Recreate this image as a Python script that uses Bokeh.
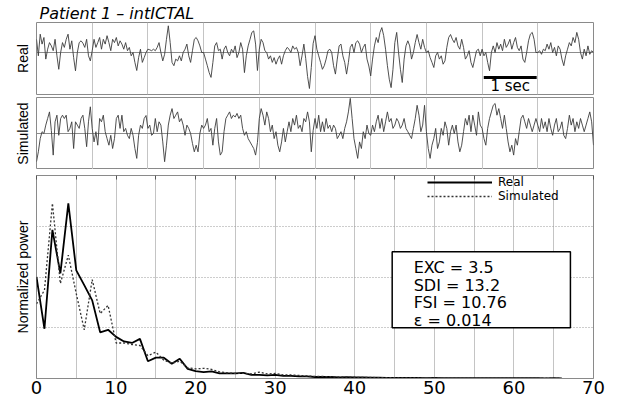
from bokeh.plotting import figure
from bokeh.layouts import column
from bokeh.models import FixedTicker, Title, LinearAxis, Range1d
from bokeh.core.properties import value
from bokeh.embed import file_html
from bokeh.resources import INLINE

FONT = "Liberation Sans"
WIDE = "DejaVu Sans"

# ---------------- data ----------------
title_text = "Patient 1 \u2013 intICTAL"
fs = 30  # samples per second in the traces

real_eeg = [
    # 0-1 s
    0.44, -0.11, 0.61, 0.28, 0.5, -0.22, 0.11, 0.33, 0.22, 0.06, 0.44, -0.11, -0.56, 0.0, 0.33,
    0.17, 0.44, 0.61, 0.11, 0.39, -0.17, -0.61, 0.0, 0.33, 0.39, 0.31, 0.17, 0.44, -0.11, -0.28,
    # 1-2 s
    0.06, 0.44, 0.17, 0.33, 0.5, 0.11, 0.44, 0.28, 0.56, 0.33, 0.06, 0.44, 0.33, 0.5, 0.22,
    0.39, 0.28, 0.11, 0.33, 0.06, 0.17, -0.11, 0.0, -0.33, -0.6, -0.17, 0.11, -0.33, -0.17, 0.0,
    # 2-3 s
    0.11, 0.09, 0.06, 0.11, 0.06, 0.17, 0.33, 0.0, -0.28, -0.06, 0.44, 0.89, 0.33, -0.33, -0.44,
    -0.22, -0.28, -0.11, -0.28, 0.0, 0.11, 0.28, -0.11, -0.33, 0.06, 0.44, 0.5, 0.39, 0.22, 0.0,
    # 3-4 s
    0.0, -0.22, -0.44, -0.67, -0.83, -0.33, 0.22, 0.33, 0.06, 0.11, -0.22, 0.11, 0.22, 0.0, -0.11,
    0.11, 0.0, 0.22, -0.17, 0.0, 0.33, 0.11, -0.67, -0.11, 0.22, 0.44, 0.67, 0.72, 0.28, -0.6,
    # 4-5 s
    0.11, 0.44, 0.33, 0.06, 0.0, -0.22, -0.11, -0.33, -0.17, -0.39, -0.22, -0.11, -0.39, -0.11, 0.06,
    0.17, 0.11, 0.0, 0.22, 0.11, 0.17, 0.0, -0.44, -0.11, 0.28, -0.2, -0.8, -1.2, -0.5, 0.3,
    # 5-6 s
    0.56, 0.11, -0.11, -0.33, -0.56, -0.44, -0.22, 0.06, 0.11, 0.0, -0.44, -0.72, -0.22, 0.22, 0.28,
    -0.11, -0.33, -0.72, -0.33, 0.17, 0.28, 0.0, 0.33, 0.39, 0.28, 0.0, 0.17, 0.28, -0.22, -0.45,
    # 6-7 s
    -0.78, -0.22, 0.22, 0.5, 0.33, 0.67, 0.83, 0.56, 0.11, -0.44, -0.89, -1.17, -0.56, 0.33, 0.67,
    0.0, -0.56, -1.0, -0.22, 0.22, 0.39, 0.22, -0.22, 0.0, 0.33, 0.6, 0.33, 0.11, 0.44, 0.17,
    # 7-8 s
    0.0, 0.06, -0.17, -0.33, -0.5, -0.11, 0.0, -0.22, -0.11, -0.39, -0.28, 0.17, 0.5, 0.6, 0.44,
    0.33, 0.5, 0.22, 0.11, 0.44, 0.17, -0.22, -0.11, 0.06, -0.33, -0.5, -0.22, 0.06, 0.11, -0.11,
    # 8-9 s
    0.11, -0.11, 0.0, -0.33, -0.61, 0.0, 0.22, 0.0, 0.33, 0.11, 0.28, 0.06, 0.44, 0.17, 0.28,
    0.44, 0.11, 0.33, 0.5, 0.17, 0.06, 0.22, -0.22, -0.33, 0.0, 0.39, 0.61, 0.67, 0.44, 0.0,
    # 9-10 s
    0.0, 0.06, -0.06, 0.11, 0.06, 0.28, 0.11, 0.33, 0.0, 0.17, -0.11, 0.22, 0.11, -0.22, -0.44,
    -0.11, 0.11, 0.33, 0.22, 0.5, 0.33, 0.67, 0.44, 0.0, -0.22, 0.11, -0.11, 0.22, -0.06, 0.06,
    0.0,
]

sim_eeg = [
    # 0-1 s
    -0.94, -0.61, -0.17, 0.06, 0.0, 0.28, 0.5, 0.72, 0.1, -0.72, 0.39, 0.61, -0.06, 0.5, 0.61,
    0.5, 0.61, 0.06, 0.17, 0.39, -0.5, 0.39, 0.28, 0.17, 0.5, 0.61, 0.17, -0.44, 0.39, 0.89,
    # 1-2 s
    0.17, -0.28, 0.06, -0.39, 0.5, 0.39, 0.61, 0.06, -0.17, -0.39, -0.06, -0.5, -0.17, 0.5, 0.61,
    0.17, 0.61, 0.06, 0.17, -0.06, -0.17, 0.17, -0.06, -0.5, -0.83, -0.06, 0.28, 0.17, 0.5, 0.6,
    # 2-3 s
    0.17, 0.28, -0.06, 0.0, 0.5, 0.06, 0.39, 0.28, -0.28, -0.94, -0.39, 0.28, 0.61, 0.83, 0.5,
    0.61, 0.72, 0.39, 0.5, 0.28, -0.06, 0.28, 0.17, 0.0, -0.33, -0.61, -0.39, -0.61, 0.0, 0.28,
    # 3-4 s
    0.17, 0.28, 0.5, 0.06, 0.17, -0.39, 0.17, 0.5, -0.28, -0.72, -0.61, 0.06, 0.5, 0.61, 0.72,
    0.5, 0.61, 0.55, 0.67, 0.5, 0.61, 0.17, -0.06, 0.06, -0.17, -0.28, -0.39, -0.5, -0.72, -0.3,
    # 4-5 s
    0.5, 0.83, 0.61, 0.28, 0.72, 0.5, 0.06, 0.28, -0.17, 0.06, -0.39, -0.61, -0.28, 0.17, -0.28,
    0.06, 0.39, 0.06, 0.5, 0.28, 0.61, 0.17, 0.28, 0.06, 0.5, 0.39, 0.72, 0.39, -0.61, 0.1,
    # 5-6 s
    0.5, 0.17, 0.61, 0.06, 0.39, 0.06, 0.5, 0.17, 0.28, 0.06, 0.28, 0.17, -0.17, -0.06, 0.06,
    -0.17, 0.17, 0.39, 0.72, 1.17, 0.5, -0.17, -0.5, -0.83, -0.28, -0.5, 0.06, -0.17, 0.28, 0.0,
    # 6-7 s
    -0.06, 0.28, 0.06, 0.39, 0.61, 0.17, 0.5, 0.06, 0.39, 0.72, 0.39, 0.5, 0.17, 0.28, 0.5,
    0.39, 0.17, 0.28, 0.5, 0.17, 0.06, -0.06, -0.17, 0.17, 0.5, 0.94, 0.61, 0.06, 0.28, 0.94,
    # 7-8 s
    0.06, -0.5, -0.83, -0.39, -0.17, 0.17, -0.5, -0.28, 0.17, -0.06, 0.39, 0.17, -0.39, 0.06, 0.28,
    0.0, 0.28, -0.28, -0.61, -0.39, 0.06, 0.5, 0.28, 0.61, 0.06, 0.61, 0.28, -0.06, 0.72, 0.28,
    # 8-9 s
    0.17, -0.17, -0.39, 0.17, 0.5, 0.72, 0.94, 1.0, 0.61, 0.83, 0.5, 0.17, 0.61, 0.17, -0.28,
    -0.61, -0.39, -0.72, -0.17, -0.39, 0.06, 0.5, 0.61, 0.39, 0.17, 0.5, 0.28, 0.06, 0.28, 0.5,
    # 9-10 s
    0.28, 0.06, 0.5, 0.17, 0.39, 0.06, 0.5, 0.17, -0.06, 0.28, 0.5, 0.06, 0.17, 0.39, -0.06,
    -0.17, 0.17, 0.61, 0.28, 0.5, 0.06, 0.39, 0.17, 0.5, 0.28, 0.06, 0.28, 0.5, 0.72, 0.39,
    -0.39,
]

freq_hz = list(range(67))
psd_real = [
    2.0, 0.98, 2.93, 2.07, 3.45, 2.13, 1.84, 1.54, 0.91, 0.96,
    0.82, 0.73, 0.70, 0.78, 0.34, 0.41, 0.41, 0.29, 0.39, 0.19,
    0.145, 0.125, 0.14, 0.10, 0.10, 0.10, 0.11, 0.07, 0.07, 0.06,
    0.07, 0.05, 0.05, 0.04, 0.04, 0.03, 0.03, 0.03, 0.02, 0.025,
    0.02, 0.02, 0.015, 0.015, 0.012, 0.01, 0.012, 0.01, 0.01, 0.008,
    0.01, 0.008, 0.008, 0.007, 0.008, 0.006, 0.007, 0.006, 0.006, 0.005,
    0.006, 0.005, 0.005, 0.005, 0.004, 0.005, 0.004,
]
psd_sim = [
    1.47, 1.74, 3.45, 1.87, 2.43, 1.67, 0.96, 1.95, 1.28, 1.44,
    0.70, 0.70, 0.67, 0.65, 0.45, 0.52, 0.36, 0.30, 0.34, 0.21,
    0.19, 0.20, 0.18, 0.13, 0.11, 0.10, 0.10, 0.09, 0.125, 0.09,
    0.10, 0.07, 0.07, 0.06, 0.05, 0.04, 0.04, 0.035, 0.03, 0.03,
    0.025, 0.02, 0.02, 0.018, 0.015, 0.015, 0.012, 0.012, 0.01, 0.01,
    0.012, 0.01, 0.009, 0.01, 0.008, 0.008, 0.009, 0.007, 0.008, 0.007,
    0.007, 0.006, 0.007, 0.006, 0.006, 0.005, 0.006,
]

stats_labels = ["EXC = 3.5", "SDI = 13.2", "FSI = 10.76", "\u03b5 = 0.014"]
series_names = ["Real", "Simulated"]
freq_ticks = [0, 10, 20, 30, 40, 50, 60, 70]

t_real = [i / fs for i in range(len(real_eeg))]
t_sim = [i / fs for i in range(len(sim_eeg))]

# ---------------- styling ----------------
W = 620
GRID = "#c4c4c4"
FRAME = "#8a8a8a"
TRACE = "#3c3c3c"


def base_fig(height, xr, yr, top, bottom, ylabel):
    p = figure(width=W, height=height, x_range=Range1d(*xr), y_range=Range1d(*yr),
               output_backend="svg", toolbar_location=None,
               min_border_left=36, min_border_right=27,
               min_border_top=top, min_border_bottom=bottom)
    p.outline_line_color = FRAME
    p.yaxis.ticker = FixedTicker(ticks=[])
    p.yaxis.axis_line_color = None
    p.yaxis.major_tick_out = 0
    p.yaxis.major_tick_in = 0
    p.yaxis.axis_label = ylabel
    p.yaxis.axis_label_standoff = 6
    p.yaxis.axis_label_text_font = FONT
    p.yaxis.axis_label_text_font_style = "normal"
    p.yaxis.axis_label_text_font_size = "14px"
    p.yaxis.axis_label_text_color = "black"
    p.xgrid.grid_line_color = GRID
    p.ygrid.grid_line_color = GRID
    return p


def trace_fig(height, yr, top, bottom, ylabel):
    p = base_fig(height, (0, 10), yr, top, bottom, ylabel)
    p.xaxis.visible = False
    p.xgrid.ticker = FixedTicker(ticks=list(range(1, 10)))
    p.ygrid.ticker = FixedTicker(ticks=[0])
    p.ygrid.grid_line_color = "#8c8c8c"
    return p


# Panel 1: Real
p1 = trace_fig(95, (-1.4, 1.0), 22, 1, "Real")
p1.title = Title(text=title_text, text_font=WIDE, text_font_style="italic",
                 text_font_size="16px", text_color="black", standoff=0, align="left", offset=3)
p1.line(t_real, real_eeg, line_color=TRACE, line_width=0.9)
bar_start, bar_len = 8.03, 0.95
p1.line([bar_start, bar_start + bar_len], [-0.83, -0.83], line_color="black", line_width=3)
p1.text(x=[bar_start + bar_len / 2], y=[-1.13], text=["1 sec"], text_font=value(WIDE),
        text_font_size=value("15px"), text_align="center", text_baseline="middle",
        text_color="black")

# Panel 2: Simulated
p2 = trace_fig(74, (-1.2, 1.2), 2, 0, "Simulated")
p2.line(t_sim, sim_eeg, line_color=TRACE, line_width=0.9)

# Panel 3: spectrum
p3 = base_fig(228, (0, 70), (0, 4), 6, 19, "Normalized power")
p3.xaxis.ticker = FixedTicker(ticks=freq_ticks)
p3.xaxis.major_label_text_font = WIDE
p3.xaxis.major_label_text_font_size = "18px"
p3.xaxis.major_label_text_color = "black"
p3.xaxis.major_label_standoff = 2
p3.xaxis.major_tick_out = 0
p3.xaxis.major_tick_in = 0
p3.xaxis.minor_tick_out = 0
p3.xaxis.minor_tick_in = 0
p3.xaxis.axis_line_color = FRAME
p3.xgrid.ticker = FixedTicker(ticks=list(range(5, 70, 5)))
p3.ygrid.ticker = FixedTicker(ticks=[1, 2, 3])
p3.ygrid.grid_line_dash = "1 2"
p3.ygrid.grid_line_color = "#9a9a9a"

top_ax = LinearAxis(ticker=FixedTicker(ticks=list(range(0, 75, 5))),
                    major_label_text_font_size="0px", major_label_text_color=None,
                    major_tick_in=4, major_tick_out=0,
                    minor_tick_in=0, minor_tick_out=0, axis_line_color=None,
                    major_tick_line_color="#555555")
p3.add_layout(top_ax, "above")

p3.line(freq_hz, psd_real, line_color="black", line_width=1.8, legend_label=series_names[0])
p3.line(freq_hz, psd_sim, line_color="#333333", line_width=1.3, line_dash="2 2",
        legend_label=series_names[1])

box_l, box_r, box_b, box_t = 44.7, 67.1, 1.0, 2.5
p3.quad(left=[box_l], right=[box_r], bottom=[box_b], top=[box_t],
        fill_color="white", line_color="black", line_width=1.5)
p3.text(x=[47.4] * 4, y=[2.19, 1.83, 1.50, 1.14], text=stats_labels,
        text_font=value(WIDE), text_font_size=value("16px"),
        text_align="left", text_baseline="middle", text_color="black")

lg = p3.legend[0]
lg.location = (391, 175)
lg.border_line_color = None
lg.background_fill_alpha = 0
lg.margin = 0
lg.padding = 0
lg.spacing = 0
lg.glyph_width = 65
lg.glyph_height = 12
lg.label_height = 12
lg.label_standoff = 6
lg.label_text_font = WIDE
lg.label_text_font_size = "12px"
lg.label_text_color = "black"

layout = column(p1, p2, p3, spacing=0)
open("out.html", "w").write(file_html(layout, INLINE))
